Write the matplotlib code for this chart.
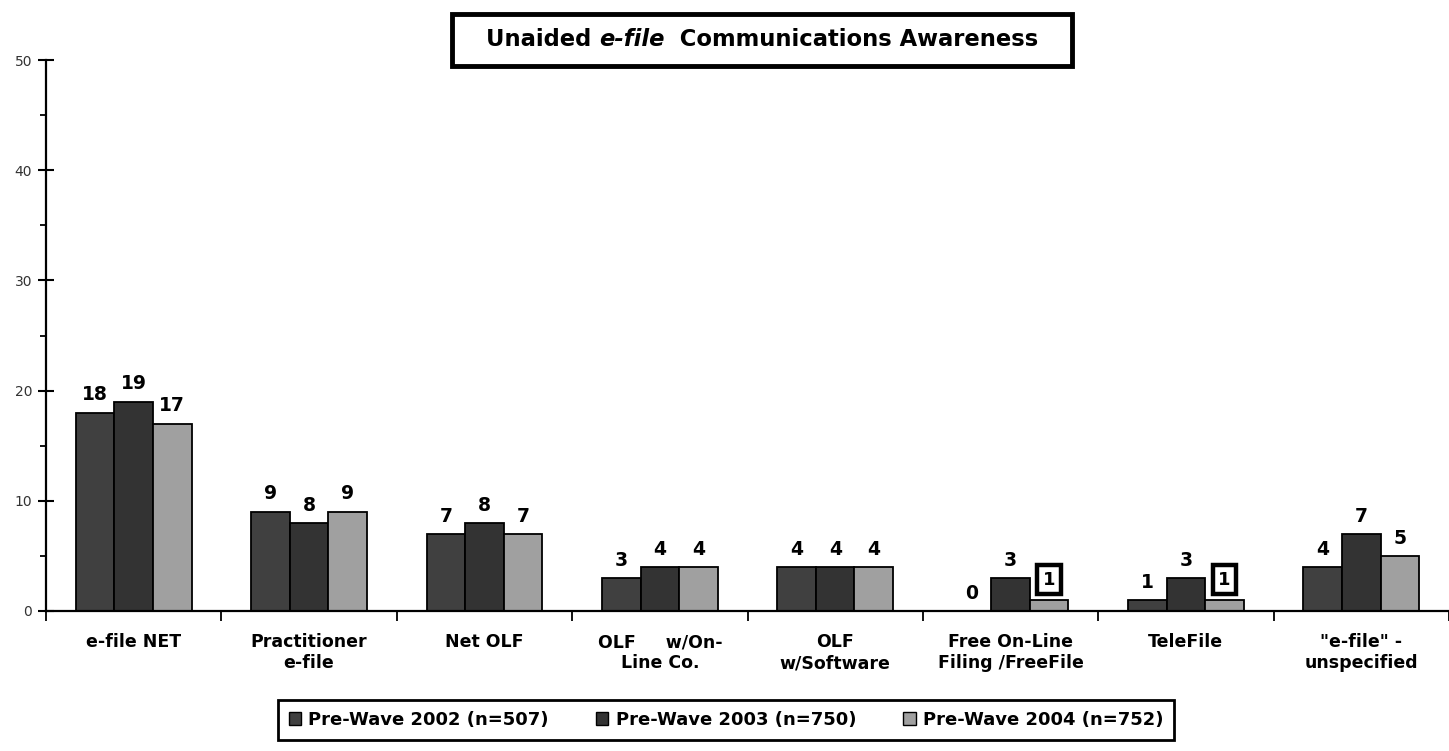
import matplotlib
matplotlib.use("Agg")
import matplotlib.pyplot as plt
import numpy as np
from matplotlib.patches import Rectangle, Patch

categories = ["e-file NET", "Practitioner\ne-file", "Net OLF", "OLF     w/On-\nLine Co.",
              "OLF\nw/Software", "Free On-Line\nFiling /FreeFile", "TeleFile", "\"e-file\" -\nunspecified"]
wave_2002 = [18, 9, 7, 3, 4, 0, 1, 4]
wave_2003 = [19, 8, 8, 4, 4, 3, 3, 7]
wave_2004 = [17, 9, 7, 4, 4, 1, 1, 5]
series_names = ["Pre-Wave 2002 (n=507)", "Pre-Wave 2003 (n=750)", "Pre-Wave 2004 (n=752)"]
colors = ["#404040", "#333333", "#a0a0a0"]
boxed = [(2, 5), (2, 6)]  # (series, category) labels drawn in a box

W, H = 1449, 751
fig = plt.figure(figsize=(W / 100, H / 100), dpi=100)
ax = fig.add_axes([46 / W, 1 - 611 / H, (1449 - 46) / W, (611 - 60) / H])

x = np.arange(len(categories)) + 0.5
bw = 0.22
for s, vals in enumerate([wave_2002, wave_2003, wave_2004]):
    xs = x + (s - 1) * bw
    ax.bar(xs, vals, width=bw, color=colors[s], edgecolor="black", linewidth=1.3, zorder=2)
    for i, (xi, v) in enumerate(zip(xs, vals)):
        if (s, i) in boxed:
            ax.annotate(str(v), (xi, v), xytext=(0, 8), textcoords="offset points",
                        ha="center", va="bottom", fontsize=13, fontweight="bold",
                        bbox=dict(boxstyle="square,pad=0.3", fc="white", ec="black", lw=3.2))
        else:
            ax.annotate(str(v), (xi, v), xytext=(0, 6), textcoords="offset points",
                        ha="center", va="bottom", fontsize=13.5, fontweight="bold")

ax.set_xlim(0, len(categories))
ax.set_ylim(0, 50)
for sp in ["top", "right"]:
    ax.spines[sp].set_visible(False)
for sp in ["left", "bottom"]:
    ax.spines[sp].set_linewidth(1.6)

ax.set_yticks(np.arange(0, 51, 10))
ax.set_yticks(np.arange(5, 50, 10), minor=True)
ax.tick_params(axis="y", which="major", direction="inout", length=12, width=1.5,
               labelsize=10, labelcolor="#333333", pad=4)
ax.tick_params(axis="y", which="minor", direction="out", length=4, width=1.3)
ax.set_xticks(np.arange(0, len(categories) + 1))
ax.set_xticklabels([])
ax.set_xticks(x, minor=True)
ax.set_xticklabels(categories, minor=True, fontsize=12.5, fontweight="bold", linespacing=1.2)
ax.tick_params(axis="x", which="major", direction="out", length=7, width=1.3)
ax.tick_params(axis="x", which="minor", length=0, pad=16)

# title box
fig.patches.append(Rectangle((452 / W, 1 - 66 / H), 620 / W, 52 / H, transform=fig.transFigure,
                             fill=False, ec="black", lw=3.5))
parts = [("Unaided ", "normal"), ("e-file", "italic"), ("  Communications Awareness", "normal")]
texts = [fig.text(0, 1 - 40 / H, p, fontsize=16.3, fontweight="bold", style=st, va="center")
         for p, st in parts]
r = fig.canvas.get_renderer()
widths = [t.get_window_extent(r).width for t in texts]
start = 762 - sum(widths) / 2
for t, w in zip(texts, widths):
    t.set_x(start / W)
    start += w

handles = [Patch(facecolor=c, edgecolor="black", linewidth=1) for c in colors]
leg = fig.legend(handles, series_names, loc="center", bbox_to_anchor=(726 / W, 1 - 720 / H),
                 ncol=3, frameon=True, fancybox=False, edgecolor="black", framealpha=1,
                 prop=dict(size=13, weight="bold"), handlelength=0.7, handleheight=0.7,
                 handletextpad=0.4, columnspacing=2.6, borderpad=0.6, borderaxespad=0)
leg.get_frame().set_linewidth(2)

fig.savefig("out.png", dpi=100)
